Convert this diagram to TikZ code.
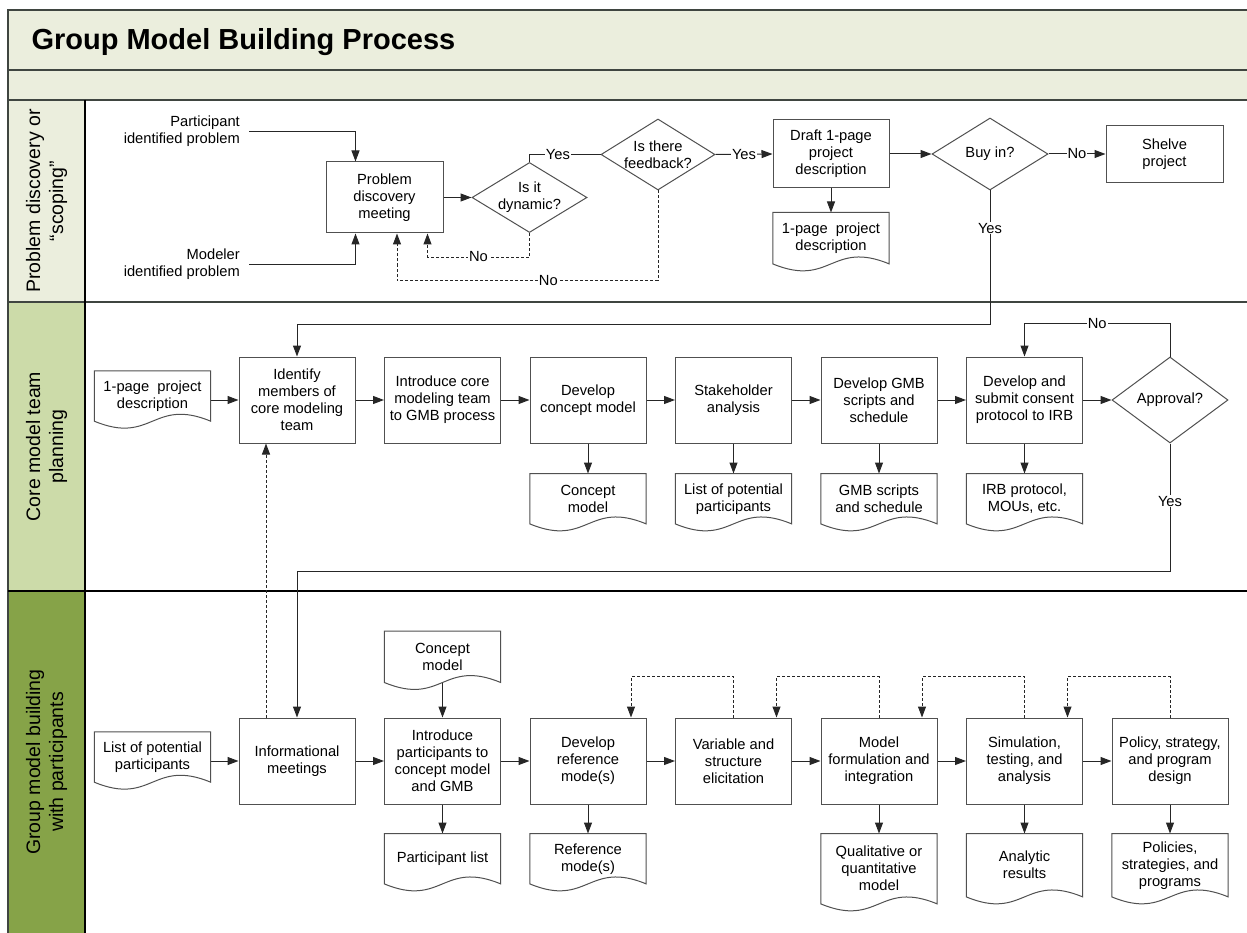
\documentclass[tikz,border=0pt]{standalone}
\usepackage{fontspec}
\setmainfont{Liberation Sans}
\usepackage{tikz}
\usetikzlibrary{arrows.meta,positioning,shapes.geometric}
\definecolor{framegray}{HTML}{3F4540}
\definecolor{band}{HTML}{EBEEDD}
\definecolor{lanemid}{HTML}{CCDBA9}
\definecolor{lanedark}{HTML}{86A348}
\definecolor{edge}{HTML}{505050}
\newcommand{\boxfont}{\fontsize{14.7}{17}\selectfont}
\newcommand{\lanefont}{\fontsize{19.5}{23}\selectfont}
\newcommand{\titlefont}{\fontsize{29}{34}\selectfont\bfseries}
\newcommand{\wave}[1]{\draw[docline] (#1.north west) -- (#1.north east) -- (#1.south east)
  .. controls +(-58,-24) and +(58,24) .. (#1.south west) -- cycle;}
\tikzset{
  procbox/.style={rectangle, draw=edge, fill=white, line width=1pt, align=center,
                  inner sep=2pt, minimum width=116pt, minimum height=86pt, font=\boxfont},
  docbox/.style={rectangle, align=center, inner sep=2pt, minimum width=116pt,
                 minimum height=50pt, font=\boxfont},
  docline/.style={draw=edge, line width=1pt},
  decision/.style={diamond, aspect=1.6, draw=edge, fill=white, line width=1pt,
                   align=center, inner sep=0pt, font=\boxfont},
  flow/.style={-{Triangle[length=11pt,width=8pt]}, draw=black!85, line width=1pt},
  backflow/.style={flow, dash pattern=on 3pt off 2pt},
  yn/.style={fill=white, inner sep=1pt, font=\boxfont},
  srclbl/.style={anchor=east, align=right, inner xsep=9pt, inner ysep=1pt, font=\boxfont},
  lanelbl/.style={rotate=90, align=center, font=\lanefont},
  framebold/.style={draw=framegray, line width=2pt},
  framethin/.style={draw=black, line width=1.3pt},
}

\begin{document}
\begin{tikzpicture}[x=1pt, y=-1pt]
\useasboundingbox (0,0) rectangle (1247,933);

% swimlane frame
\fill[band] (8,10) rectangle (1247,100);
\fill[band] (8,100) rectangle (85,302);
\fill[lanemid] (8,302) rectangle (85,591);
\fill[lanedark] (8,591) rectangle (85,933);
\draw[framebold] (1247,10) -- (8,10) -- (8,933);
\draw[framebold] (8,70) -- (1247,70);
\draw[framebold] (8,100) -- (1247,100);
\draw[framebold] (8,302) -- (1247,302);
\draw[framethin] (8,591) -- (1247,591);
\draw[framethin] (85,100) -- (85,933);

\node[anchor=base west, font=\titlefont] (title) at (28,50) {Group Model Building Process};

\node[lanelbl] (lane1) at (46.5,201) {Problem discovery or\\“scoping”};
\node[lanelbl] (lane2) at (46.5,446.5) {Core model team\\planning};
\node[lanelbl] (lane3) at (46.5,762) {Group model building\\with participants};

% lane 1: scoping
\node[procbox, minimum width=117pt, minimum height=71pt] (pdm) at (384.5,197.5) {Problem\\discovery\\meeting};
\node[srclbl] (pip) at (249,131.5) {Participant\\identified problem};
\node[srclbl] (mip) at (249,264.5) {Modeler\\identified problem};
\node[decision, minimum width=115pt, minimum height=65pt, right=28pt of pdm] (dyn) {Is it\\dynamic?};
\node[decision, minimum width=114pt, minimum height=71pt] (fb) at (658,154.5) {Is there\\feedback?};
\node[procbox, minimum width=116pt, minimum height=68pt] (draft) at (831,154) {Draft 1-page\\project\\description};
\node[docbox, minimum height=51pt, below=24pt of draft] (page) {1-page\ \ project\\description};
\node[decision, minimum width=116pt, minimum height=72pt] (buy) at (990,154) {Buy in?};
\node[procbox, minimum width=117pt, minimum height=57pt, right=57pt of buy] (shelve) {Shelve\\project};

\draw[flow] (pip.east) -| ([xshift=-29pt]pdm.north);
\draw[flow] (mip.east) -| ([xshift=-29pt]pdm.south);
\draw[flow] (pdm) -- (dyn);
\draw[draw=black!85, line width=1pt] (dyn.north) |- node[yn, pos=0.7] {Yes} (fb.west);
\draw[flow] (fb.east) -- node[yn] {Yes} (draft.west);
\draw[flow] (draft) -- (buy);
\draw[flow] (buy.east) -- node[yn] {No} (shelve.west);
\draw[flow] (draft) -- (page);
\draw[backflow] (dyn.south) -- ++(0,24) -| node[yn, pos=0.25] {No} ([xshift=43pt]pdm.south);
\draw[backflow] (fb.south) -- ++(0,90) -| node[yn, pos=0.21] {No} ([xshift=12.5pt]pdm.south);

% lane 2: core team planning
\node[docbox] (pdesc) at (152.5,396) {1-page\ \ project\\description};
\node[procbox] (idm) at (297,400) {Identify\\members of\\core modeling\\team};
\node[procbox, right=28.5pt of idm] (icm) {Introduce core\\modeling team\\to GMB process};
\node[procbox, right=28.5pt of icm] (dcm) {Develop\\concept model};
\node[procbox, right=28.5pt of dcm] (sta) {Stakeholder\\analysis};
\node[procbox, right=28.5pt of sta] (gmb) {Develop GMB\\scripts and\\schedule};
\node[procbox, right=28.5pt of gmb] (irb) {Develop and\\submit consent\\protocol to IRB};
\node[decision, minimum width=116pt, minimum height=86pt, right=28.5pt of irb] (appr) {Approval?};
\node[docbox, below=30pt of dcm] (cmod) {Concept\\model};
\node[docbox, below=30pt of sta] (plist) {List of potential\\participants};
\node[docbox, below=30pt of gmb] (gsch) {GMB scripts\\and schedule};
\node[docbox, below=30pt of irb] (irbdoc) {IRB protocol,\\MOUs, etc.};

\draw[flow] (buy.south) -- node[yn, pos=0.28] {Yes} ++(0,134) -| (idm.north);
\draw[flow] (pdesc.east |- idm.west) -- (idm.west);
\draw[flow] (idm) -- (icm);
\draw[flow] (icm) -- (dcm);
\draw[flow] (dcm) -- (sta);
\draw[flow] (sta) -- (gmb);
\draw[flow] (gmb) -- (irb);
\draw[flow] (irb) -- (appr);
\draw[flow] (dcm) -- (cmod);
\draw[flow] (sta) -- (plist);
\draw[flow] (gmb) -- (gsch);
\draw[flow] (irb) -- (irbdoc);
\draw[flow] (appr.north) -- ++(0,-33) -| node[yn, pos=0.25] {No} (irb.north);

% lane 3: building with participants
\node[docbox] (lpp) at (152.5,757) {List of potential\\participants};
\node[procbox] (info) at (297,761) {Informational\\meetings};
\node[procbox, right=28.5pt of info] (ipc) {Introduce\\participants to\\concept model\\and GMB};
\node[procbox, right=28.5pt of ipc] (drm) {Develop\\reference\\mode(s)};
\node[procbox, right=28.5pt of drm] (vse) {Variable and\\structure\\elicitation};
\node[procbox, right=28.5pt of vse] (mfi) {Model\\formulation and\\integration};
\node[procbox, right=28.5pt of mfi] (sim) {Simulation,\\testing, and\\analysis};
\node[procbox, right=28.5pt of sim] (pol) {Policy, strategy,\\and program\\design};
\node[docbox, minimum height=51pt, above=35pt of ipc] (cmod2) {Concept\\model};
\node[docbox, below=29pt of ipc] (plst) {Participant list};
\node[docbox, below=29pt of drm] (rmod) {Reference\\mode(s)};
\node[docbox, minimum height=70pt, below=29pt of mfi] (qmod) {Qualitative or\\quantitative\\model};
\node[docbox, minimum height=63pt, below=29pt of sim] (ares) {Analytic\\results};
\node[docbox, minimum height=63pt, below=29pt of pol] (pols) {Policies,\\strategies, and\\programs};

\draw[flow] (appr.south) -- node[yn, pos=0.45] {Yes} ++(0,128) -| (info.north);
\draw[flow] (lpp.east |- info.west) -- (info.west);
\draw[flow] (info) -- (ipc);
\draw[flow] (ipc) -- (drm);
\draw[flow] (drm) -- (vse);
\draw[flow] (vse) -- (mfi);
\draw[flow] (mfi) -- (sim);
\draw[flow] (sim) -- (pol);
\draw[flow] (cmod2) -- (ipc);
\draw[flow] (ipc) -- (plst);
\draw[flow] (drm) -- (rmod);
\draw[flow] (mfi) -- (qmod);
\draw[flow] (sim) -- (ares);
\draw[flow] (pol) -- (pols);
\draw[backflow] ([xshift=-31pt]info.north) -- ([xshift=-31pt]idm.south);
\draw[backflow] (vse.north) -- ++(0,-41) -| ([xshift=43pt]drm.north);
\draw[backflow] (mfi.north) -- ++(0,-41) -| ([xshift=43pt]vse.north);
\draw[backflow] (sim.north) -- ++(0,-41) -| ([xshift=43pt]mfi.north);
\draw[backflow] (pol.north) -- ++(0,-41) -| ([xshift=43pt]sim.north);

% document outlines
\foreach \d in {page,pdesc,cmod,plist,gsch,irbdoc,lpp,cmod2,plst,rmod,qmod,ares,pols}
  \wave{\d};
\end{tikzpicture}
\end{document}
